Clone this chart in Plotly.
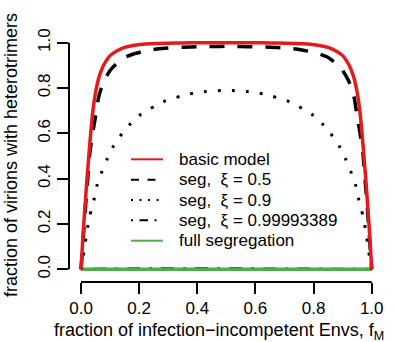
import plotly.graph_objects as go

# ---------------- data ----------------
x_main = [0, 0.005, 0.01, 0.015, 0.02, 0.025, 0.03, 0.04, 0.05, 0.06, 0.07, 0.08,
          0.1, 0.12, 0.15, 0.18, 0.22, 0.26, 0.3, 0.35, 0.4, 0.45, 0.5,
          0.55, 0.6, 0.65, 0.7, 0.74, 0.78, 0.82, 0.85, 0.88, 0.9, 0.92, 0.93,
          0.94, 0.95, 0.96, 0.97, 0.975, 0.98, 0.985, 0.99, 0.995, 1.0]
basic_model = [0, 0.11, 0.21, 0.30, 0.39, 0.47, 0.55, 0.69, 0.78, 0.84, 0.878, 0.906,
               0.943, 0.961, 0.979, 0.988, 0.994, 0.997, 0.998, 0.999, 1.0, 1.0, 1.0,
               1.0, 1.0, 0.999, 0.998, 0.997, 0.994, 0.988, 0.979, 0.961, 0.943, 0.906, 0.878,
               0.84, 0.78, 0.69, 0.55, 0.47, 0.39, 0.30, 0.21, 0.11, 0]
seg_05 = [0, 0.09, 0.18, 0.27, 0.35, 0.43, 0.51, 0.60, 0.675, 0.755, 0.80, 0.833,
          0.877, 0.905, 0.935, 0.95, 0.963, 0.972, 0.977, 0.98, 0.982, 0.983, 0.984,
          0.983, 0.982, 0.98, 0.977, 0.972, 0.963, 0.95, 0.935, 0.905, 0.877, 0.833, 0.80,
          0.755, 0.675, 0.60, 0.51, 0.43, 0.35, 0.27, 0.18, 0.09, 0]

x_seg09 = [0, 0.01, 0.02, 0.03, 0.045, 0.055, 0.07, 0.09, 0.11, 0.14, 0.17, 0.205,
           0.25, 0.29, 0.34, 0.385, 0.43, 0.48, 0.5, 0.52, 0.57, 0.615, 0.66, 0.71,
           0.75, 0.795, 0.83, 0.86, 0.89, 0.91, 0.93, 0.945, 0.955, 0.97, 0.98, 0.99, 1.0]
seg_09 = [0, 0.075, 0.165, 0.235, 0.31, 0.37, 0.425, 0.487, 0.54, 0.597, 0.642, 0.683,
          0.718, 0.743, 0.763, 0.777, 0.785, 0.789, 0.79, 0.789, 0.785, 0.777, 0.763, 0.743,
          0.718, 0.683, 0.642, 0.597, 0.54, 0.487, 0.425, 0.37, 0.31, 0.235, 0.165, 0.075, 0]

x_seg_hi = [0, 0.05, 0.1, 0.2, 0.3, 0.4, 0.5, 0.6, 0.7, 0.8, 0.9, 0.95, 1.0]
seg_hi = [0, 0.001, 0.002, 0.003, 0.003, 0.003, 0.003, 0.003, 0.003, 0.003, 0.002, 0.001, 0]

x_full = [0, 1]
full_seg = [0, 0]

x_ticks = [0, 0.2, 0.4, 0.6, 0.8, 1.0]
x_ticklabels = ["0.0", "0.2", "0.4", "0.6", "0.8", "1.0"]
y_ticks = [0, 0.2, 0.4, 0.6, 0.8, 1.0]
y_ticklabels = ["0.0", "0.2", "0.4", "0.6", "0.8", "1.0"]

legend_labels = ["basic model", "seg,  \u03be = 0.5", "seg,  \u03be = 0.9",
                 "seg,  \u03be = 0.99993389", "full segregation"]

# ---------------- styling ----------------
RED = "#E41A1C"
GREEN = "#4DAF4A"
BLACK = "#000000"
FONT = "Liberation Sans, Arial, Helvetica, sans-serif"

W, H = 395, 342
L, R, T, B = 69, 12, 34, 60
PW, PH = W - L - R, H - T - B
XR = [-0.0413, 1.0388]
YR = [-0.056, 1.0384]


def xp(px):
    return (px - L) / PW


def yp(py):
    return (H - B - py) / PH


def xdata_to_paper(v):
    return (v - XR[0]) / (XR[1] - XR[0])


def ydata_to_paper(v):
    return (v - YR[0]) / (YR[1] - YR[0])


fig = go.Figure()
fig.add_trace(go.Scatter(x=x_seg_hi, y=seg_hi, mode="lines",
                         line=dict(color=BLACK, width=3, dash="3px,9px,13px,9px"),
                         showlegend=False, hoverinfo="skip"))
fig.add_trace(go.Scatter(x=x_full, y=full_seg, mode="lines",
                         line=dict(color=GREEN, width=3.5), showlegend=False))
fig.add_trace(go.Scatter(x=x_seg09, y=seg_09, mode="lines", line_shape="spline",
                         line=dict(color=BLACK, width=3, dash="3px,11px", smoothing=0.6),
                         showlegend=False))
fig.add_trace(go.Scatter(x=x_main, y=seg_05, mode="lines", line_shape="spline",
                         line=dict(color=BLACK, width=3.5, dash="15px,13px", smoothing=0.6),
                         showlegend=False))
fig.add_trace(go.Scatter(x=x_main, y=basic_model, mode="lines", line_shape="spline",
                         line=dict(color=RED, width=3.5, smoothing=0.6), showlegend=False))

shapes = []
# R-style axis lines spanning first to last tick
shapes.append(dict(type="line", xref="paper", yref="paper",
                   x0=xdata_to_paper(x_ticks[0]), x1=xdata_to_paper(x_ticks[-1]),
                   y0=0, y1=0, line=dict(color=BLACK, width=2)))
shapes.append(dict(type="line", xref="paper", yref="paper",
                   x0=0, x1=0,
                   y0=ydata_to_paper(y_ticks[0]), y1=ydata_to_paper(y_ticks[-1]),
                   line=dict(color=BLACK, width=2)))

# legend (R style, no box)
leg_styles = [
    dict(color=RED, width=2),
    dict(color=BLACK, width=2, dash="8px,8.5px"),
    dict(color=BLACK, width=2, dash="2px,6.5px"),
    dict(color=BLACK, width=2, dash="2px,6.5px,8.5px,6.5px"),
    dict(color=GREEN, width=2),
]
leg_x0, leg_x1, leg_text_x = 131, 163, 177
leg_y0, leg_dy = 159.3, 20.35
annotations = []
for i, (lab, st) in enumerate(zip(legend_labels, leg_styles)):
    yy = leg_y0 + i * leg_dy
    shapes.append(dict(type="line", xref="paper", yref="paper",
                       x0=xp(leg_x0), x1=xp(leg_x1), y0=yp(yy), y1=yp(yy), line=st))
    annotations.append(dict(text=lab, xref="paper", yref="paper", x=xp(leg_text_x), y=yp(yy),
                            xanchor="left", yanchor="middle", showarrow=False,
                            font=dict(family=FONT, size=17, color=BLACK)))

annotations.append(dict(text="fraction of infection\u2212incompetent Envs, f<sub>M</sub>",
                        xref="paper", yref="paper", x=xp(219), y=yp(331),
                        xanchor="center", yanchor="middle", showarrow=False,
                        font=dict(family=FONT, size=18, color=BLACK)))
annotations.append(dict(text="fraction of virions with heterotrimers",
                        xref="paper", yref="paper", x=xp(11), y=yp(155),
                        xanchor="center", yanchor="middle", showarrow=False, textangle=-90,
                        font=dict(family=FONT, size=18, color=BLACK)))

fig.update_layout(
    width=W, height=H,
    margin=dict(l=L, r=R, t=T, b=B, pad=0, autoexpand=False),
    paper_bgcolor="white", plot_bgcolor="white",
    showlegend=False,
    font=dict(family=FONT, size=17, color=BLACK),
    shapes=shapes, annotations=annotations,
    xaxis=dict(range=XR, showgrid=False, zeroline=False, showline=False, automargin=False,
               tickmode="array", tickvals=x_ticks, ticktext=x_ticklabels,
               ticks="outside", ticklen=11, tickwidth=2, tickcolor=BLACK,
               tickfont=dict(family=FONT, size=17, color=BLACK)),
    yaxis=dict(range=YR, showgrid=False, zeroline=False, showline=False, automargin=False,
               tickmode="array", tickvals=y_ticks, ticktext=y_ticklabels,
               ticks="outside", ticklen=11, tickwidth=2, tickcolor=BLACK, tickangle=-90,
               tickfont=dict(family=FONT, size=17, color=BLACK)),
)

fig.write_html("out.html", config={"displayModeBar": False},
               post_script="document.body.style.margin='0';document.body.style.padding='0';")
